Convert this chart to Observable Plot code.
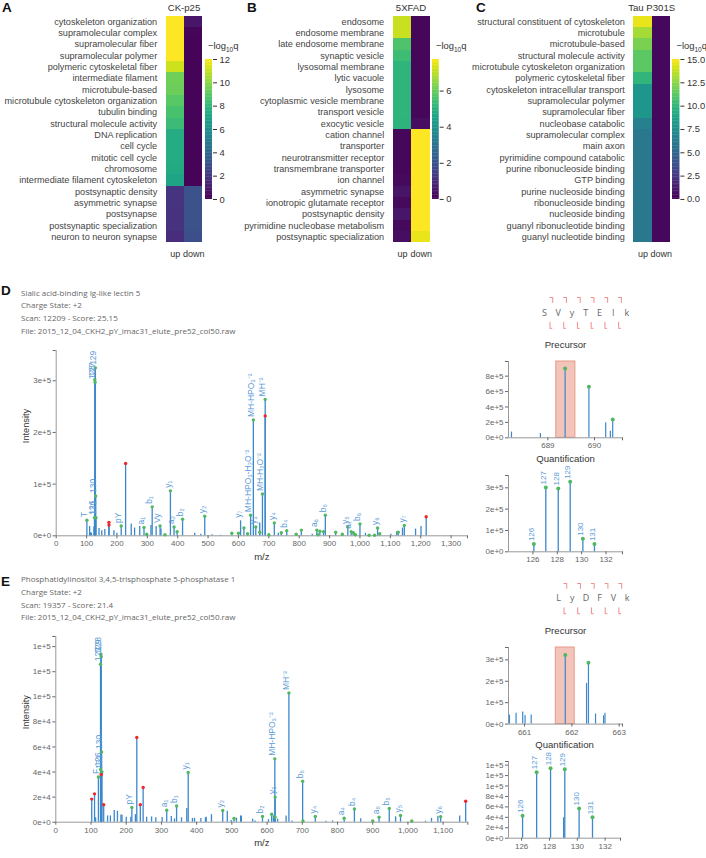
<!DOCTYPE html>
<html><head><meta charset="utf-8">
<script src="https://cdn.jsdelivr.net/npm/d3@7"></script>
<script src="https://cdn.jsdelivr.net/npm/@observablehq/plot@0.6"></script>
<style>
html,body{margin:0;padding:0;background:#fff}
#page{position:relative;width:706px;height:858px;overflow:hidden;font-family:"Liberation Sans",sans-serif}
#page>svg,#page>div{position:absolute}
.letter{font-weight:bold;font-size:13.5px;color:#111;line-height:14px}
.title{font-size:9.6px;color:#333;line-height:12px;transform:translateX(-50%);white-space:nowrap}
.cb{font-size:9.4px;color:#333;line-height:12px;white-space:nowrap}
.cb sub{font-size:6.5px;line-height:0}
.meta{font-family:"Open Sans",sans-serif;font-size:8px;color:#666;line-height:10px;white-space:nowrap}
</style></head><body><div id="page"></div>
<script>
// ---------- heatmaps ----------
const aTerms=["cytoskeleton organization","supramolecular complex","supramolecular fiber","supramolecular polymer","polymeric cytoskeletal fiber","intermediate filament","microtubule-based","microtubule cytoskeleton organization","tubulin binding","structural molecule activity","DNA replication","cell cycle","mitotic cell cycle","chromosome","intermediate filament cytoskeleton","postsynaptic density","asymmetric synapse","postsynapse","postsynaptic specialization","neuron to neuron synapse"];
const aUp=[12,12,12,12,11.1,9.4,9.3,8.9,8.5,8.2,7.4,7.4,7.4,7.3,7,1.8,1.8,1.7,1.7,1.5];
const aDown=[.7,.15,.1,.1,.1,.1,.1,.1,.1,.1,.1,.1,.1,.1,.1,3,3,3,3,2.9];
const bTerms=["endosome","endosome membrane","late endosome membrane","synaptic vesicle","lysosomal membrane","lytic vacuole","lysosome","cytoplasmic vesicle membrane","transport vesicle","exocytic vesicle","cation channel","transporter","neurotransmitter receptor","transmembrane transporter","ion channel","asymmetric synapse","ionotropic glutamate receptor","postsynaptic density","pyrimidine nucleobase metabolism","postsynaptic specialization"];
const bUp=[7.1,7.1,5.6,5.3,5.05,5.05,5.05,5.05,5.05,5,.15,.15,.15,.15,.2,.4,.2,.45,.2,.25];
const bDown=[.15,.15,.15,.15,.15,.15,.15,.15,.15,.25,7.75,7.75,7.75,7.75,7.75,7.75,7.75,7.75,7.75,7.5];
const cTerms=["structural constituent of cytoskeleton","microtubule","microtubule-based","structural molecule activity","microtubule cytoskeleton organization","polymeric cytoskeletal fiber","cytoskeleton intracellular transport","supramolecular polymer","supramolecular fiber","nucleobase catabolic","supramolecular complex","main axon","pyrimidine compound catabolic","purine ribonucleoside binding","GTP binding","purine nucleoside binding","ribonucleoside binding","nucleoside binding","guanyl ribonucleotide binding","guanyl nucleotide binding"];
const cUp=[14.5,13,12,11.2,11.2,9.8,7.9,7.9,7.9,6.5,6,6,6,6,6,6,6,6,6,6];
const cDown=[.3,.3,.3,.3,.3,.3,.3,.3,.3,.3,.3,.3,.3,.3,.3,.3,.3,.3,.3,.3];
const aTicks=[0,2,4,6,8,10,12], bTicks=[0,2,4,6], cTicks=[0,2.5,5,7.5,10,12.5,15];

// ---------- spectrum D: [m/z, intensity in thousands] ----------
const dMatched=[[101,30],[126,35],[127,302],[128,297],[129,325],[130,77],[131,35],[214,19],[289,16],[298,3],[316,56],[342,19],[358,2],[376,87],[388,17],[398,8],[416,32],[489,38],[578,5],[600,5],[618,15],[630,4],[640,40],[649,224],[657,17],[670,7],[679,81],[688,264],[700,2],[718,25],[741,6],[759,10],[790,3],[807,11],[858,11],[862,2],[868,9],[880,8],[886,40],[920,7],[942,3],[960,17],[971,8],[978,6],[985,2],[1000,23],[1030,1],[1048,1],[1058,15],[1065,4],[1126,7],[1146,20]];
const dUnmatched=[[173.5,26],[173.8,21],[228.5,140],[688,232],[1218,37]];
const dPlain=[[110,18],[113,6],[116,5],[124,17],[141,14],[150,10],[160,12],[190,10],[200,5],[247,23],[258,15],[275,18],[312,20],[329,18],[345,13],[456,5],[476,3],[513,2],[541,1],[607,29],[670,25],[731,5],[843,3],[1018,5],[1102,3],[1121,8],[1140,15],[1183,13],[1201,18]];
const dLabels=[[101,30,"T"],[126,35,"126"],[131,35,"131"],[130,77,"130"],[127,302,"127"],[128,297,"128"],[129,325,"129"],[214,19,"pY"],[289,16,"a₁"],[316,56,"b₁"],[342,19,"Vy"],[376,87,"y₁"],[388,17,"a₂"],[416,32,"b₂"],[489,38,"y₂"],[607,29,"y₇"],[640,40,"MH-HPO₃-H₂O⁻²"],[649,224,"MH-HPO₃⁻²"],[657,17,"y₃"],[679,81,"MH-H₂O⁻²"],[688,264,"MH⁻²"],[718,25,"y₄"],[759,10,"b₄"],[858,11,"a₆"],[886,40,"b₅"],[960,17,"y₅"],[971,8,"a₇"],[1000,23,"b₆"],[1058,15,"y₆"],[1146,20,"y₇"]];
const dXTicks=d3.range(0,1301,100), dYTicks=[0,1e5,2e5,3e5];

const dPrecMatched=[[689.37,900],[689.88,662],[690.39,238]];
const dPrecPlain=[[688.22,74],[688.84,56],[690.24,195],[690.34,86]];
const dQuantMatched=[[126.08,36],[127.06,302],[128.08,297],[129.06,328],[130.1,61],[131.05,36]];
const dQuantLabels=[[126.08,36,"126"],[127.06,302,"127"],[128.08,297,"128"],[129.06,328,"129"],[130.1,61,"130"],[131.05,36,"131"]];
const dSeq=["S","V","y","T","E","I","k"];

// ---------- spectrum E ----------
const eMatched=[[121,36],[127,126],[127.3,42],[128,134],[129,132],[130,56],[131,40],[216,11.7],[315,9.6],[343,13],[376,39.6],[474,9.3],[506,3],[587,4.5],[613,6.4],[622,50.5],[623,20],[622.5,4],[662,103],[701,32.7],[702,1],[737,4.5],[819,3.2],[848,10.6],[900,1],[918,4],[947,11],[979,5.3],[1011,1],[1093,4.3]];
const eUnmatched=[[102,18.4],[110,22.6],[129,38],[136,14],[230,67.5],[240,14],[248,27.7],[1164,16.7]];
const ePlain=[[113,3.5],[147,5],[155,5],[166,9.3],[175,8.7],[185,5.8],[188,5.5],[200,4],[213,4],[226,6],[258,4],[272,4.2],[284,3.5],[302,3.7],[328,4.5],[337,2.6],[357,3.5],[372,11],[388,3],[394,3],[412,3],[425,3.5],[427,4],[442,6],[487,8.8],[498,1.3],[513,3.2],[525,5],[527,4.8],[559,2.4],[566,1],[604,2],[618,5],[630,2.4],[654,5],[671,1],[767,.8],[786,1],[866,2.7],[965,4.3],[1050,.8],[1067,3],[1085,4.8],[1147,5]];
const eLabels=[[121,36,"F"],[127.3,42,"126"],[131,40,"131"],[130,56,"130"],[127,126,"127"],[128,134,"128"],[129,132,"129"],[216,11.7,"pY"],[315,9.6,"a₁"],[343,13,"b₁"],[376,39.6,"y₁"],[474,9.3,"y₂"],[587,4.5,"b₂"],[623,20,"y₃"],[622,50.5,"MH-HPO₃⁻²"],[662,103,"MH⁻²"],[701,32.7,"b₅"],[737,4.5,"y₄"],[819,3.2,"a₄"],[848,10.6,"b₄"],[918,4,"a₅"],[947,11,"b₅"],[979,5.3,"y₅"],[1093,4.3,"y₆"]];
const eXTicks=d3.range(0,1101,100), eYTicks=d3.range(0,140001,20000);

const ePrecMatched=[[661.86,323],[662.35,286]];
const ePrecPlain=[[660.68,42],[660.82,51],[660.96,56],[661.01,40],[661.14,42],[662.31,190],[662.5,47],[662.67,39],[662.7,51]];
const eQuantMatched=[[126.07,42.8],[127.08,126.5],[128.08,134],[129.1,132],[130.13,57],[131.09,40]];
const eQuantPlain=[[129.02,39]];
const eQuantLabels=[[126.07,42.8,"126"],[127.08,126.5,"127"],[128.08,134,"128"],[129.1,132,"129"],[130.13,57,"130"],[131.09,40,"131"]];
const eSeq=["L","y","D","F","V","k"];

// ---------- drawing ----------
const page=document.getElementById("page");
const FONT='"Liberation Sans",sans-serif';
const BLUE="#3c88cc",LABEL="#5b9bd8",GREEN="#4fb860",RED="#ec2a2e",AXIS="#999",TICK="#666";
const baseStyle={background:"transparent",overflow:"visible",fontFamily:FONT};
function place(el,left,top){el.style.left=left+"px";el.style.top=top+"px";page.appendChild(el);return el;}
function html(cls,left,top,content){const d=document.createElement("div");d.className=cls;d.innerHTML=content;return place(d,left,top);}

function heat(terms,up,down,max,ticks,fmt,cx0,cx1,bx0,bx1){
  const cells=terms.flatMap((t,i)=>[{t,c:"up",v:up[i]},{t,c:"down",v:down[i]}]);
  const yT=15.7,yB=242.3,width=cx1+2;
  const m=Plot.plot({width,height:262,marginLeft:cx0,marginRight:width-cx1,marginTop:yT,marginBottom:262-yB,
    style:baseStyle,
    x:{type:"band",domain:["up","down"],padding:0,round:false,axis:null},
    y:{type:"band",domain:terms,padding:0,round:false,axis:null},
    color:{type:"linear",scheme:"viridis",domain:[0,max],clamp:true},
    marks:[
      Plot.cell(cells,{x:"c",y:"t",fill:"v",shapeRendering:"crispEdges"}),
      Plot.axisX({anchor:"bottom",tickSize:0,tickPadding:8,fontSize:9,color:"#333",label:null}),
      Plot.axisY({anchor:"left",tickSize:0,tickPadding:9,fontSize:9.15,color:"#444",label:null,tickFormat:d=>d})
    ]});
  place(m,0,0);
  // colour bar
  const steps=d3.range(0,100).map(i=>max*i/100);
  const ww=bx1-bx0+40;
  const b=Plot.plot({width:ww,height:220,marginLeft:0,marginRight:40,marginTop:59,marginBottom:21,
    style:baseStyle,
    x:{domain:[0,1],axis:null},
    y:{domain:[0,max],axis:null},
    color:{type:"linear",scheme:"viridis",domain:[0,max]},
    marks:[
      Plot.rect(steps,{x1:0,x2:1,y1:d=>d,y2:d=>Math.min(max,d+max/80),fill:d=>d}),
      Plot.axisY({anchor:"right",ticks,tickFormat:fmt,tickSize:4,tickPadding:3,fontSize:9.4,color:"#333",label:null})
    ]});
  place(b,bx0,0);
}
heat(aTerms,aUp,aDown,12,aTicks,d3.format("d"),165.7,202.3,205,212);
heat(bTerms,bUp,bDown,7.75,bTicks,d3.format("d"),392.7,430,432.3,439);
heat(cTerms,cUp,cDown,15,cTicks,d3.format(".1f"),633.3,670,672.3,679.7);

function spectrum(o){
  const pad=o.pad,W=o.x1-o.x0+pad+16,H=o.yB-o.yT+10+30;
  const k=a=>a.map(d=>({x:d[0],y:d[1]*1e3,t:d[2]}));
  const marks=[];
  if(o.window) marks.push(Plot.rect([o.window],{x1:d=>d[0],x2:d=>d[1],y1:0,y2:o.yMax,fill:"#f2c4ba",stroke:"#e89a8a",strokeWidth:1}));
  marks.push(
    Plot.ruleY([0],{stroke:AXIS,strokeWidth:1}),
    Plot.ruleX([o.xMin],{stroke:AXIS,strokeWidth:1}),
    Plot.axisX({ticks:o.xTicks,tickFormat:o.xFmt,tickSize:3,tickPadding:2,fontSize:8,color:TICK,label:null}),
    Plot.axisX({ticks:[o.xMax],tickFormat:()=>"",tickSize:3,color:TICK,label:null}),
    Plot.axisY({ticks:o.yTicks,tickFormat:d3.format(".0e"),tickSize:3,tickPadding:2,fontSize:8,color:TICK,label:null}),
    Plot.axisY({ticks:[o.yMax],tickFormat:()=>"",tickSize:3,color:TICK,label:null}),
    Plot.ruleX(k(o.plain||[]),{x:"x",y1:0,y2:"y",stroke:BLUE,strokeWidth:o.rw}),
    Plot.ruleX(k(o.matched),{x:"x",y1:0,y2:"y",stroke:BLUE,strokeWidth:o.rw}),
    Plot.ruleX(k(o.unmatched||[]),{x:"x",y1:0,y2:"y",stroke:BLUE,strokeWidth:o.rw}),
    Plot.dot(k(o.matched),{x:"x",y:"y",r:o.r,fill:GREEN}),
    Plot.dot(k(o.unmatched||[]),{x:"x",y:"y",r:o.r,fill:RED}),
    Plot.text(k(o.labels||[]),{x:"x",y:"y",text:"t",rotate:-90,textAnchor:"start",dx:o.ldx,dy:o.ldy,fontSize:o.lfs,fill:LABEL})
  );
  if(o.xLabel) marks.push(Plot.text([o.xLabel],{frameAnchor:"bottom",dy:o.xLabelDy,fontSize:9.5,fill:"#333"}));
  if(o.yLabel) marks.push(Plot.text([o.yLabel],{frameAnchor:"left",dx:o.yLabelDx,rotate:-90,fontSize:9.2,fill:"#333"}));
  if(o.title) marks.push(Plot.text([o.title],{frameAnchor:"top",dy:o.titleDy,fontSize:9.6,fill:"#333"}));
  const p=Plot.plot({width:W,height:H,marginLeft:pad,marginRight:W-pad-(o.x1-o.x0),marginTop:10,marginBottom:30,
    style:baseStyle,
    x:{domain:[o.xMin,o.xMax],axis:null},
    y:{domain:[0,o.yMax],axis:null},
    marks});
  place(p,o.x0-pad,o.yT-10);
}
function peptide(seq,x0,y0,yTop,yBot){
  const pos=d3.range(seq.length-1).map(i=>i+.5), e=.1;
  const w=(seq.length-1)*13.73, pad=10;
  const p=Plot.plot({width:w+2*pad,height:yBot-yTop+4,marginLeft:pad,marginRight:pad,marginTop:2,marginBottom:2,
    style:baseStyle,
    x:{domain:[0,seq.length-1],axis:null},
    y:{domain:[-1,1],axis:null},
    marks:[
      Plot.text(seq,{x:(d,i)=>i,y:0,text:d=>d,fontSize:9,fontFamily:'"Open Sans",sans-serif',fill:"#666"}),
      Plot.ruleY(pos,{x1:d=>d-e,x2:d=>d+e,y:1,stroke:"#f08c8c",strokeWidth:1}),
      Plot.ruleX(pos,{x:d=>d+e,y1:1,y2:.62,stroke:"#f08c8c",strokeWidth:1}),
      Plot.ruleY(pos,{x1:d=>d-e,x2:d=>d+e,y:-1,stroke:"#f08c8c",strokeWidth:1}),
      Plot.ruleX(pos,{x:d=>d-e,y1:-1,y2:-.62,stroke:"#f08c8c",strokeWidth:1})
    ]});
  place(p,x0-pad,yTop-2);
}

// panel letters, titles
html("letter",2,1,"A");html("letter",247,1,"B");html("letter",476,1,"C");html("letter",1,284,"D");html("letter",1,575,"E");
html("title",184,1.5,"CK-p25");html("title",411,1.5,"5XFAD");html("title",651.7,1.5,"Tau P301S");
const cbTitle="−log<sub>10</sub>q";
html("cb",208,40,cbTitle);html("cb",436,40,cbTitle);html("cb",676.5,40,cbTitle);

["Sialic acid-binding Ig-like lectin 5","Charge State: +2","Scan: 12209 - Score: 25.15","File: 2015_12_04_CKH2_pY_imac31_elute_pre52_col50.raw"].forEach((t,i)=>html("meta",21,287.7+i*12.67,t));
["Phosphatidylinositol 3,4,5-trisphosphate 5-phosphatase 1","Charge State: +2","Scan: 19357 - Score: 21.4","File: 2015_12_04_CKH2_pY_imac31_elute_pre52_col50.raw"].forEach((t,i)=>html("meta",21,574.3+i*12.67,t));

const comma=d3.format(",");
spectrum({x0:55.7,x1:467,yT:350,yB:535.3,pad:55.7,xMin:0,xMax:1354,yMax:358600,xTicks:dXTicks,xFmt:comma,yTicks:dYTicks,matched:dMatched,unmatched:dUnmatched,plain:dPlain,labels:dLabels,r:1.7,rw:1.3,ldx:-2.5,ldy:-3,lfs:8.5,xLabel:"m/z",xLabelDy:24,yLabel:"Intensity",yLabelDx:-30});
spectrum({x0:55.3,x1:467.3,yT:636,yB:821.7,pad:55.3,xMin:0,xMax:1170,yMax:148100,xTicks:eXTicks,xFmt:comma,yTicks:eYTicks,matched:eMatched,unmatched:eUnmatched,plain:ePlain,labels:eLabels,r:1.7,rw:1.3,ldx:-2.5,ldy:-3,lfs:8.5,xLabel:"m/z",xLabelDy:24,yLabel:"Intensity",yLabelDx:-30});

spectrum({x0:508.3,x1:622.3,yT:361,yB:437.3,pad:34,xMin:688.156,xMax:690.6,yMax:990000,xTicks:[689,690],xFmt:d3.format("d"),yTicks:[0,2e5,4e5,6e5,8e5],matched:dPrecMatched,plain:dPrecPlain,window:[689.18,689.59],r:2,rw:1.2,title:"Precursor",titleDy:-20.5});
spectrum({x0:508.3,x1:622.3,yT:475,yB:551.3,pad:34,xMin:124,xMax:133.35,yMax:357800,xTicks:[126,128,130,132],xFmt:d3.format("d"),yTicks:[0,1e5,2e5,3e5],matched:dQuantMatched,labels:dQuantLabels,r:2,rw:1.3,ldx:-2.3,ldy:-3,lfs:8,title:"Quantification",titleDy:-20.5});
spectrum({x0:508.3,x1:622.3,yT:646.7,yB:723.3,pad:34,xMin:660.66,xMax:663.07,yMax:357700,xTicks:[661,662,663],xFmt:d3.format("d"),yTicks:[0,1e5,2e5,3e5],matched:ePrecMatched,plain:ePrecPlain,window:[661.66,662.06],r:2,rw:1.2,title:"Precursor",titleDy:-20.5});
spectrum({x0:508.3,x1:620.3,yT:761,yB:837.7,pad:34,xMin:125.06,xMax:133.1,yMax:147000,xTicks:[126,128,130,132],xFmt:d3.format("d"),yTicks:eYTicks,matched:eQuantMatched,plain:eQuantPlain,labels:eQuantLabels,r:2,rw:1.3,ldx:-2.3,ldy:-3,lfs:8,title:"Quantification",titleDy:-20.5});

peptide(dSeq,480+192/3,312.3,296.7,327.5);
peptide(eSeq,480+233/3,598.3,583.3,613.5);
</script></body></html>
